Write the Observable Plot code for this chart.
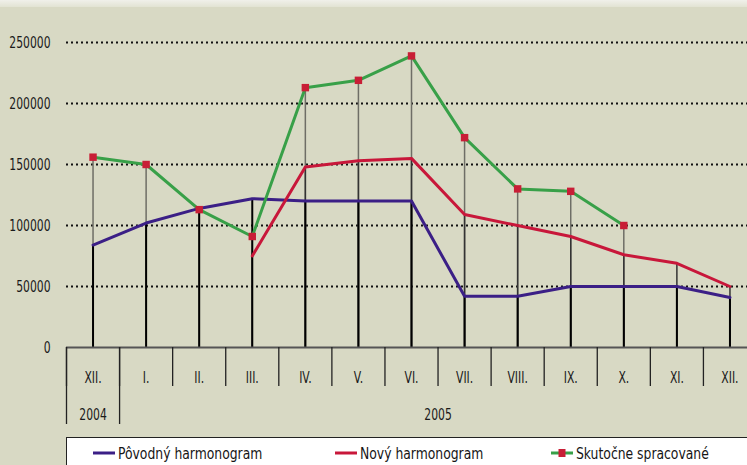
<!DOCTYPE html>
<html>
<head>
<meta charset="utf-8">
<script src="https://cdn.jsdelivr.net/npm/d3@7"></script>
<script src="https://cdn.jsdelivr.net/npm/@observablehq/plot@0.6"></script>
<style>
  html, body { margin: 0; padding: 0; background: #d8d9c4; width: 747px; height: 465px; overflow: hidden; }
  body { font-family: "DejaVu Sans Condensed", "DejaVu Sans", sans-serif; position: relative; }
  #strip { position: absolute; left: 0; top: 0; width: 747px; height: 7px; background: linear-gradient(#f0f0ea, #e2e3d3); }
  #chart { position: absolute; left: 0; top: 0; }
  #legend { position: absolute; left: 66px; top: 437px; width: 690px; height: 30px; background: #fff;
            border-top: 1px solid #222; border-left: 1px solid #222; box-sizing: border-box; }
  .item { position: absolute; top: 2px; font-size: 16px; color: #151515; display: flex; align-items: center; height: 26px; }
  .item svg { margin-right: 2px; }
  .item span { display: inline-block; transform: scaleX(0.86); transform-origin: left center; white-space: nowrap; }
</style>
</head>
<body>
<div id="strip"></div>
<div id="chart"></div>
<div id="legend"></div>
<script>
const months = ["XII.","I.","II.","III.","IV.","V.","VI.","VII.","VIII.","IX.","X.","XI.","XII."];
const povodny = [84000,102000,114000,122000,120000,120000,120000,42000,42000,50000,50000,50000,41000];
const novy = [null,null,null,75000,148000,153000,155000,109000,100000,91000,76000,69000,50000];
const skutocne = [156000,150000,113000,91000,213000,219000,239000,172000,130000,128000,100000,null,null];
const yTicks = [0,50000,100000,150000,200000,250000];
const gridTicks = [50000,100000,150000,200000,250000];
const years = ["2004","2005"];
const yearStart = [0,1];
const yearEnd = [0,12];
const seriesNames = ["Pôvodný harmonogram","Nový harmonogram","Skutočne spracované"];
const colors = {pov: "#3b1f86", novy: "#c8173a", skut: "#38a048", marker: "#c81e36"};

const toRows = arr => arr.map((v, i) => ({i, v})).filter(d => d.v != null);
const povRows = toRows(povodny), novRows = toRows(novy), skuRows = toRows(skutocne);
const boundaries = d3.range(months.length + 1).map(i => i - 0.5);
const yearBounds = [-0.5, 0.5];
const yearRows = years.map((y, k) => ({label: y, mid: (yearStart[k] + yearEnd[k]) / 2}));

const font = `"DejaVu Sans Condensed", "DejaVu Sans", sans-serif`;

const chart = Plot.plot({
  width: 747,
  height: 437,
  marginLeft: 66, marginRight: 0, marginTop: 42, marginBottom: 90,
  style: {background: "transparent", fontFamily: font, fontSize: "16px", color: "#1a1a1a", overflow: "visible"},
  x: {type: "linear", domain: [-0.5, 12.5], range: [66, 756], axis: null},
  y: {domain: [0, 250000], range: [347, 42], axis: null},
  marks: [
    Plot.ruleY(gridTicks, {x1: -0.5, x2: 12.5, stroke: "#111", strokeWidth: 2, strokeDasharray: "2,3"}),
    Plot.axisY({ticks: yTicks, tickSize: 0, tickPadding: 16, tickFormat: d => String(d), fontSize: 16, label: null}),
    Plot.ruleX(skuRows, {x: "i", y1: 0, y2: "v", stroke: "#6e6e66", strokeWidth: 1.5}),
    Plot.ruleX(novRows, {x: "i", y1: 0, y2: "v", stroke: "#333", strokeWidth: 1.5}),
    Plot.ruleX(povRows, {x: "i", y1: 0, y2: "v", stroke: "#000", strokeWidth: 2}),
    Plot.ruleY([0], {x1: -0.5, x2: 12.5, stroke: "#555", strokeWidth: 2}),
    Plot.axisX({ticks: boundaries, tickSize: 39, tickFormat: () => "", stroke: "#222", strokeWidth: 1.3, label: null}),
    Plot.axisX({ticks: yearBounds, tickSize: 77, tickFormat: () => "", stroke: "#222", strokeWidth: 1.3, label: null}),
    Plot.text(months, {x: (d, i) => i, y: () => 0, dy: 30, text: d => d, fontSize: 16, fill: "#1a1a1a"}),
    Plot.text(yearRows, {x: "mid", y: () => 0, dy: 67, text: "label", fontSize: 16, fill: "#1a1a1a"}),
    Plot.line(povRows, {x: "i", y: "v", stroke: colors.pov, strokeWidth: 3}),
    Plot.line(novRows, {x: "i", y: "v", stroke: colors.novy, strokeWidth: 3}),
    Plot.line(skuRows, {x: "i", y: "v", stroke: colors.skut, strokeWidth: 3}),
    Plot.dot(skuRows, {x: "i", y: "v", symbol: "square", r: 4.2, fill: colors.marker, stroke: "none"})
  ]
});
document.getElementById("chart").appendChild(chart);

// narrow the condensed glyphs to match the reference's condensed face
chart.querySelectorAll("text").forEach(t => {
  const w = t.getComputedTextLength();
  if (w > 0) {
    t.setAttribute("textLength", (w * 0.75).toFixed(2));
    t.setAttribute("lengthAdjust", "spacingAndGlyphs");
  }
});

const legend = document.getElementById("legend");
const items = [
  {name: seriesNames[0], color: colors.pov, left: 26, marker: false},
  {name: seriesNames[1], color: colors.novy, left: 268, marker: false},
  {name: seriesNames[2], color: colors.skut, left: 484, marker: true}
];
items.forEach(it => {
  const div = document.createElement("div");
  div.className = "item";
  div.style.left = it.left + "px";
  const s = d3.create("svg").attr("width", 23).attr("height", 12);
  s.append("line").attr("x1", 0).attr("x2", 22).attr("y1", 6).attr("y2", 6).attr("stroke", it.color).attr("stroke-width", 3);
  if (it.marker) s.append("rect").attr("x", 7.5).attr("y", 2).attr("width", 7).attr("height", 8).attr("fill", colors.marker);
  div.appendChild(s.node());
  const t = document.createElement("span");
  t.textContent = it.name;
  div.appendChild(t);
  legend.appendChild(div);
});
</script>
</body>
</html>
